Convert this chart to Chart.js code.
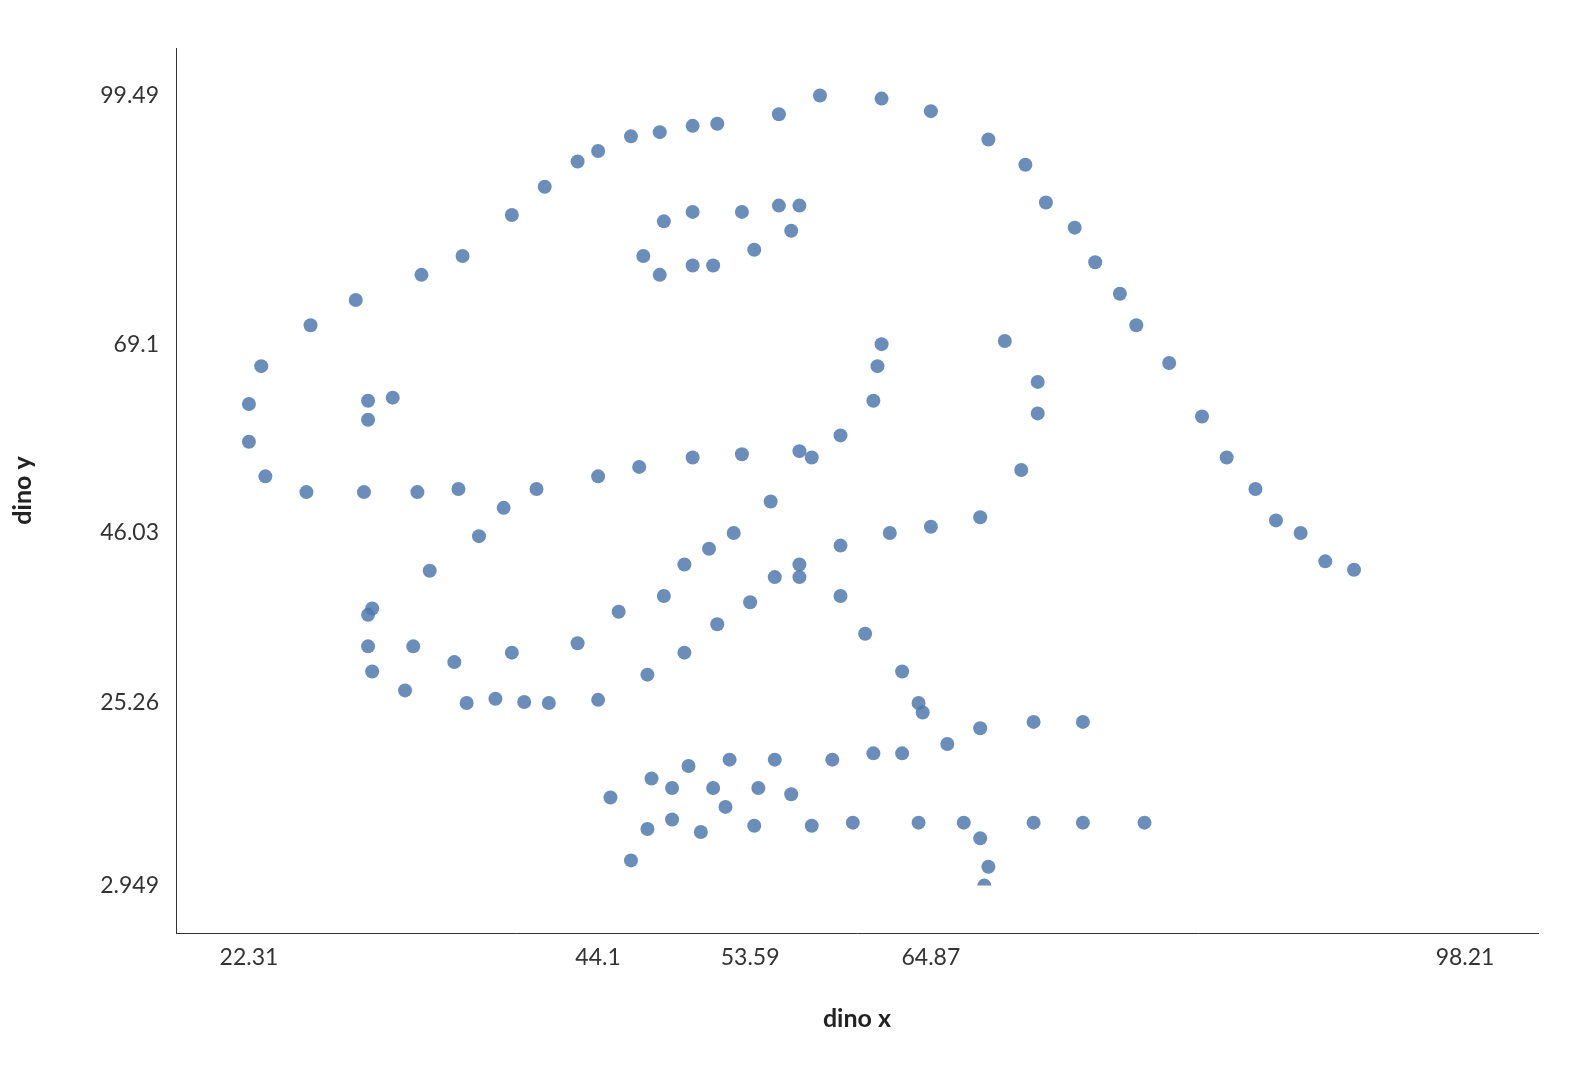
<!DOCTYPE html>
<html>
<head>
<meta charset="utf-8">
<script src="https://cdn.jsdelivr.net/npm/chart.js@4.4.0/dist/chart.umd.min.js"></script>
<style>
  html, body { margin: 0; padding: 0; background: #fff; }
</style>
</head>
<body>
<canvas id="grafico" width="1586" height="1070"></canvas>
<script>
// dino x / dino y
const dinoX = [55.3846, 51.5385, 46.1538, 42.8205, 40.7692, 38.7179, 35.641, 33.0769, 28.9744, 26.1538,
  23.0769, 22.3077, 22.3077, 23.3333, 25.8974, 29.4872, 32.8205, 35.3846, 40.2564, 44.1026,
  46.6667, 50, 53.0769, 56.6667, 59.2308, 61.2821, 61.5385, 61.7949, 57.4359, 54.8718,
  52.5641, 48.2051, 49.4872, 51.0256, 45.3846, 42.8205, 38.7179, 35.1282, 32.5641, 30,
  33.5897, 36.6667, 38.2051, 29.7436, 29.7436, 30, 32.0513, 35.8974, 41.0256, 44.1026,
  47.1795, 49.4872, 51.5385, 53.5897, 55.1282, 56.6667, 59.2308, 62.3077, 64.8718, 67.9487,
  70.5128, 71.5385, 71.5385, 69.4872, 46.9231, 48.2051, 50, 53.0769, 55.3846, 56.6667,
  56.1538, 53.8462, 51.2821, 50, 47.9487, 29.7436, 29.7436, 31.2821, 57.9487, 61.7949,
  64.8718, 68.4615, 70.7692, 72.0513, 73.8462, 75.1282, 76.6667, 77.6923, 79.7436, 81.7949,
  83.3333, 85.1282, 86.4103, 87.9487, 89.4872, 91.2821, 56.6667, 59.2308, 60.7692, 63.0769,
  64.1026, 64.359, 74.359, 71.2821, 67.9487, 65.8974, 63.0769, 61.2821, 58.7179, 55.1282,
  52.3077, 49.7436, 47.4359, 44.8718, 48.7179, 51.2821, 54.1026, 56.1538, 52.0513, 48.7179,
  47.1795, 50.5128, 53.8462, 46.1538, 57.4359, 60, 64.1026, 66.9231, 71.2821, 74.359,
  78.2051, 67.9487, 68.4615, 68.2051, 44.1026, 47.9487, 50, 37.6923, 39.4872];

const dinoY = [97.1795, 96.0256, 94.4872, 91.4103, 88.3333, 84.8718, 79.8718, 77.5641, 74.4872, 71.4103,
  66.4103, 61.7949, 57.1795, 52.9487, 51.0256, 51.0256, 51.0256, 51.4103, 51.4103, 52.9487,
  54.1026, 55.2564, 55.641, 56.0256, 57.9487, 62.1795, 66.4103, 69.1026, 55.2564, 49.8718,
  46.0256, 38.3333, 42.1795, 44.1026, 36.4103, 32.5641, 31.4103, 30.2564, 32.1795, 36.7949,
  41.4103, 45.641, 49.1026, 36.0256, 32.1795, 29.1026, 26.7949, 25.2564, 25.2564, 25.641,
  28.718, 31.4103, 34.8718, 37.5641, 40.641, 42.1795, 44.4872, 46.0256, 46.7949, 47.9487,
  53.718, 60.641, 64.4872, 69.4872, 79.8718, 84.1026, 85.2564, 85.2564, 86.0256, 86.0256,
  82.9487, 80.641, 78.718, 78.718, 77.5641, 59.8718, 62.1795, 62.5641, 99.4872, 99.1026,
  97.5641, 94.1026, 91.0256, 86.4103, 83.3333, 79.1026, 75.2564, 71.4103, 66.7949, 60.2564,
  55.2564, 51.4103, 47.5641, 46.0256, 42.5641, 41.5385, 40.641, 38.3333, 33.718, 29.1026,
  25.2564, 24.1026, 22.9487, 22.9487, 22.1795, 20.2564, 19.1026, 19.1026, 18.3333, 18.3333,
  18.3333, 17.5641, 16.0256, 13.718, 14.8718, 14.8718, 14.8718, 14.1026, 12.5641, 11.0256,
  9.8718, 9.4872, 10.2564, 6.0256, 10.2564, 10.641, 10.641, 10.641, 10.641, 10.641,
  10.641, 8.7179, 5.2564, 2.9487, 92.6923, 95.0, 95.7692, 25.7692, 25.3846];

const xTickLabels = ['22.31', '44.1', '53.59', '64.87', '98.21'];
const yTickLabels = ['2.949', '25.26', '46.03', '69.1', '99.49'];

const xTicks = xTickLabels.map(Number);
const yTicks = yTickLabels.map(Number);

const pontos = dinoX.map((x, i) => ({ x: x, y: dinoY[i] }));

// margem de 6% em cada lado, como no original
function limites(ticks) {
  const min = Math.min(...ticks);
  const max = Math.max(...ticks);
  const pad = (max - min) * 0.06;
  return { min: min - pad, max: max + pad };
}
const limX = limites(xTicks);
const limY = limites(yTicks);

const fonteTicks = { family: 'Lato, "Open Sans", sans-serif', size: 23 };
const fonteTitulo = { family: 'Lato, "Open Sans", sans-serif', size: 25, weight: 'bold' };

// os pontos são cortados na linha do menor y, o resto fica livre
const cortePontos = {
  id: 'cortePontos',
  beforeDatasetsDraw(chart) {
    const { ctx, chartArea, scales } = chart;
    const base = scales.y.getPixelForValue(Math.min(...dinoY));
    ctx.save();
    ctx.beginPath();
    ctx.rect(chartArea.left - 20, chartArea.top - 20, chartArea.width + 40, base - chartArea.top + 20);
    ctx.clip();
  },
  afterDatasetsDraw(chart) {
    chart.ctx.restore();
  }
};

const canva = document.getElementById('grafico');

new Chart(canva, {
  type: 'scatter',
  data: {
    datasets: [{
      label: 'dino',
      data: pontos,
      backgroundColor: 'rgba(80, 122, 173, 0.85)',
      borderWidth: 0,
      pointRadius: 7,
      pointHoverRadius: 7,
      clip: false
    }]
  },
  options: {
    responsive: false,
    animation: false,
    events: [],
    layout: {
      padding: { top: 48, right: 48, bottom: 0, left: 0 }
    },
    plugins: {
      legend: { display: false },
      tooltip: { enabled: false }
    },
    scales: {
      x: {
        type: 'linear',
        min: limX.min,
        max: limX.max,
        afterBuildTicks: (scale) => { scale.ticks = xTicks.map(v => ({ value: v })); },
        afterFit: (scale) => { scale.height = 137; },
        grid: { display: false, drawTicks: false },
        border: { display: true, color: '#333', width: 1 },
        ticks: {
          autoSkip: false,
          maxRotation: 0,
          padding: 11,
          color: '#333',
          font: fonteTicks,
          callback: (value, index) => xTickLabels[index]
        },
        title: {
          display: true,
          text: 'dino x',
          color: '#222',
          font: fonteTitulo,
          padding: { top: 0, bottom: 36 }
        }
      },
      y: {
        type: 'linear',
        min: limY.min,
        max: limY.max,
        afterBuildTicks: (scale) => { scale.ticks = yTicks.map(v => ({ value: v })); },
        afterFit: (scale) => { scale.width = 176; },
        grid: { display: false, drawTicks: false },
        border: { display: true, color: '#333', width: 1 },
        ticks: {
          autoSkip: false,
          padding: 17,
          color: '#333',
          font: fonteTicks,
          callback: (value, index) => yTickLabels[index]
        },
        title: {
          display: true,
          text: 'dino y',
          color: '#222',
          font: fonteTitulo,
          padding: { top: 8, bottom: 0 }
        }
      }
    }
  },
  plugins: [cortePontos]
});
</script>
</body>
</html>
